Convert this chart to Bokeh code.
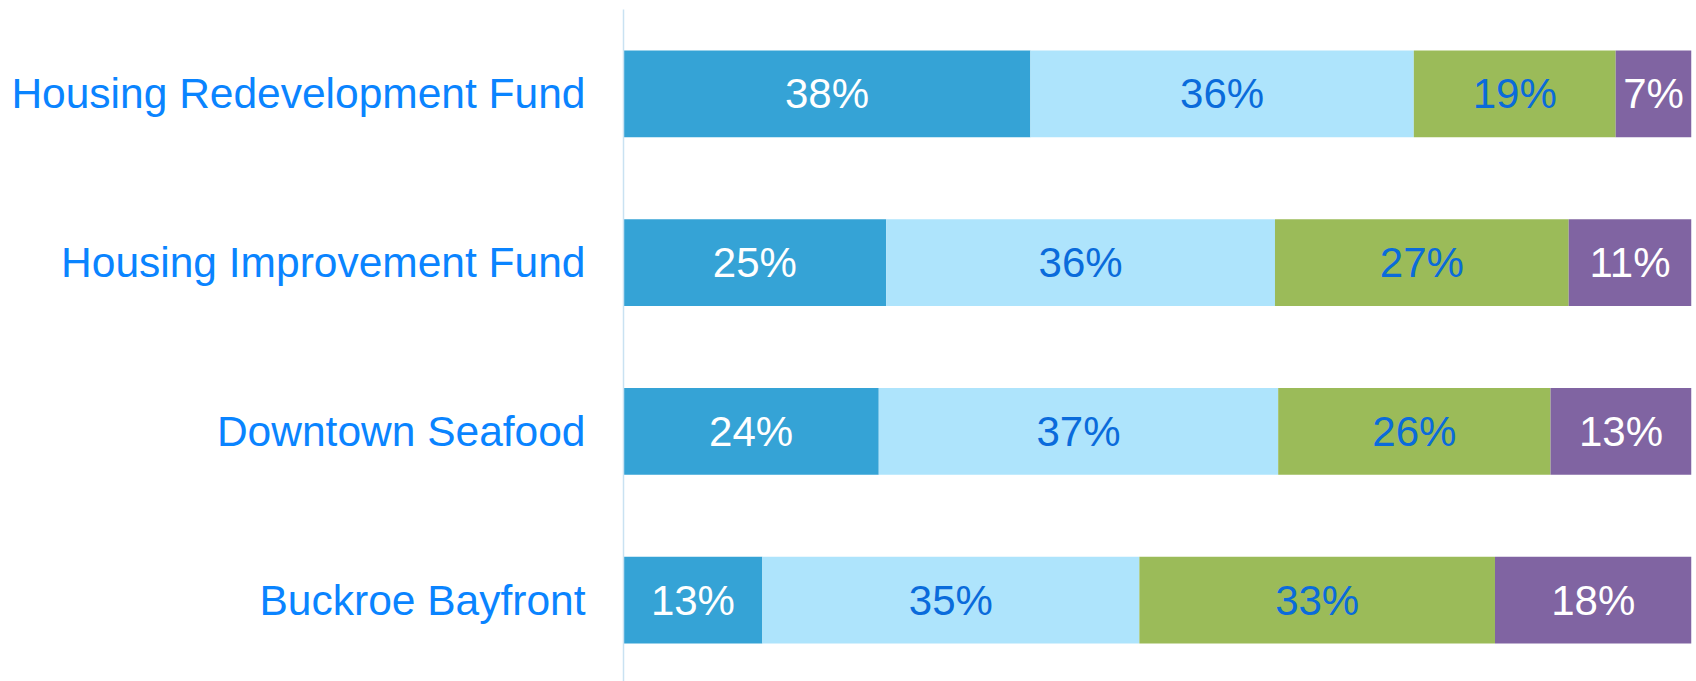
from bokeh.plotting import figure
from bokeh.models import ColumnDataSource, FactorRange
from bokeh.core.properties import value
from bokeh.embed import file_html
from bokeh.resources import INLINE

categories = ["Housing Redevelopment Fund", "Housing Improvement Fund", "Downtown Seafood", "Buckroe Bayfront"]
# segment shares (%)
s1 = [38.1, 24.6, 23.9, 13.0]
s2 = [35.9, 36.4, 37.4, 35.3]
s3 = [18.9, 27.5, 25.5, 33.3]
s4 = [7.1, 11.5, 13.2, 18.4]
# printed labels
l1 = ["38%", "25%", "24%", "13%"]
l2 = ["36%", "36%", "37%", "35%"]
l3 = ["19%", "27%", "26%", "33%"]
l4 = ["7%", "11%", "13%", "18%"]

colors = ["#35A3D6", "#AEE4FC", "#9BBB59", "#8064A2"]
label_colors = ["#FFFFFF", "#0A6BDB", "#0A6BDB", "#FFFFFF"]
FONT = "Liberation Sans"

p = figure(width=1696, height=684, output_backend="svg", toolbar_location=None,
           y_range=FactorRange(*reversed(categories)), x_range=(0, 100),
           min_border_left=623, min_border_right=5, min_border_top=9, min_border_bottom=0)
p.outline_line_color = None
p.xaxis.visible = False
p.xgrid.visible = False
p.ygrid.visible = False

series = [s1, s2, s3, s4]
labels = [l1, l2, l3, l4]
totals = [sum(vals) for vals in zip(*series)]
lefts = [0.0] * len(categories)
for k, vals in enumerate(series):
    pct = [v / t * 100 for v, t in zip(vals, totals)]
    rights = [l + q for l, q in zip(lefts, pct)]
    src = ColumnDataSource(dict(
        y=categories, left=lefts, right=rights,
        mid=[(l + r) / 2 for l, r in zip(lefts, rights)],
        label=labels[k]))
    p.hbar(y="y", left="left", right="right", height=0.513, source=src,
           fill_color=colors[k], line_color=None)
    p.text(x="mid", y="y", text="label", source=src, text_align="center",
           text_baseline="middle", text_font=value(FONT), text_font_size="42px",
           text_color=label_colors[k])
    lefts = rights

ax = p.yaxis[0]
ax.axis_line_color = "#C9E2F2"
ax.axis_line_width = 1.5
ax.major_tick_line_color = None
ax.minor_tick_line_color = None
ax.major_label_text_font = FONT
ax.major_label_text_font_size = "42.5px"
ax.major_label_text_color = "#0A84FF"
ax.major_label_standoff = 32

open("out.html", "w").write(file_html(p, INLINE))
